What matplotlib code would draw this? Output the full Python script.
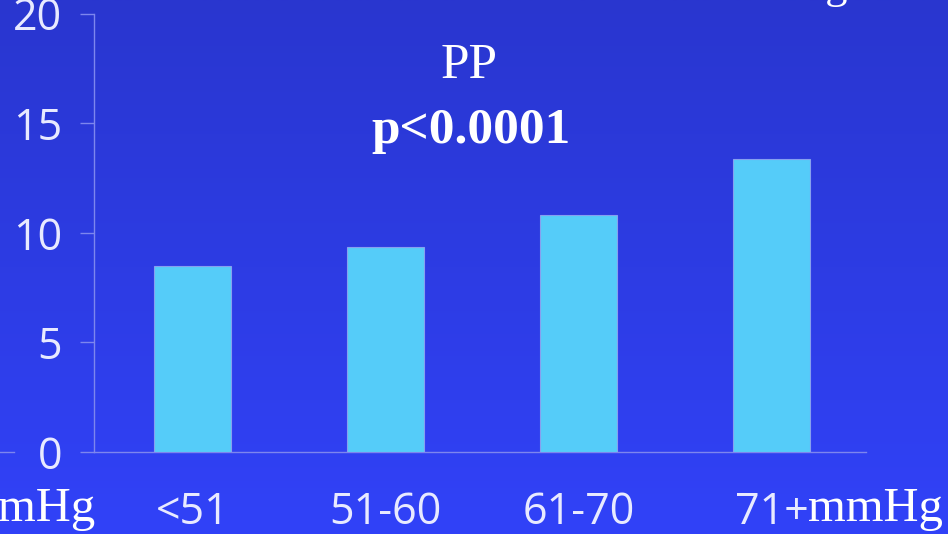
import numpy as np
import matplotlib
matplotlib.use("Agg")
import matplotlib.pyplot as plt
from matplotlib.colors import LinearSegmentedColormap

# Data
categories = ["<51", "51-60", "61-70", "71+"]
values = [8.5, 9.35, 10.8, 13.35]
yticks = [0, 5, 10, 15, 20]

W, H = 948, 534
fig = plt.figure(figsize=(W / 100, H / 100), dpi=100)

# Vertical blue gradient background
bg = fig.add_axes([0, 0, 1, 1], zorder=-10)
grad = np.linspace(0, 1, 256).reshape(-1, 1)
cmap = LinearSegmentedColormap.from_list("bg", ["#2936cf", "#3142f8"])
bg.imshow(grad, aspect="auto", cmap=cmap, extent=[0, 1, 0, 1], origin="upper")
bg.set_axis_off()

axis_col = "#7d86ee"
label_col = "#e8eaff"

ax = fig.add_axes([94 / W, 1 - 452 / H, (866 - 94) / W, (452 - 13.5) / H])
ax.patch.set_alpha(0)
x = np.arange(len(categories))
ax.bar(x, values, width=0.4, color="#55ccf9", edgecolor="#86a0f0", linewidth=0.8, zorder=3)
ax.set_xlim(-0.51, 3.49)
ax.set_ylim(0, 20)
ax.set_yticks(yticks)
ax.set_xticks(x)
ax.set_xticklabels(categories)

for s in ["top", "right"]:
    ax.spines[s].set_visible(False)
for s in ["left", "bottom"]:
    ax.spines[s].set_color(axis_col)
    ax.spines[s].set_linewidth(1.0)

ax.tick_params(axis="y", length=10, width=1.0, color=axis_col, pad=13,
               labelsize=31, labelcolor=label_col)
ax.tick_params(axis="x", length=0, pad=28, labelsize=31, labelcolor=label_col)
for lab in ax.get_xticklabels() + ax.get_yticklabels():
    lab.set_fontfamily("Open Sans")

# Annotation texts in serif
serif = "Liberation Serif"
fig.text(469 / W, 1 - 78 / H, "PP", ha="center", va="baseline",
         fontsize=37, family=serif, color="white")
fig.text(471 / W, 1 - 143 / H, "p<0.0001", ha="center", va="baseline",
         fontsize=37, family=serif, fontweight="bold", color="white")
fig.text(943 / W, 1 - 521 / H, "mmHg", ha="right", va="baseline",
         fontsize=35, family=serif, color="white")
fig.text(95 / W, 1 - 521 / H, "mHg", ha="right", va="baseline",
         fontsize=35, family=serif, color="white")
fig.text(848 / W, 1 + 2 / H, "mmHg", ha="right", va="baseline",
         fontsize=32, family=serif, color="white")

# Short rule at the far left edge
fig.add_artist(plt.Line2D([0, 14 / W], [1 - 452 / H, 1 - 452 / H],
                          color=axis_col, linewidth=1.0))

fig.savefig("out.png", dpi=100)
